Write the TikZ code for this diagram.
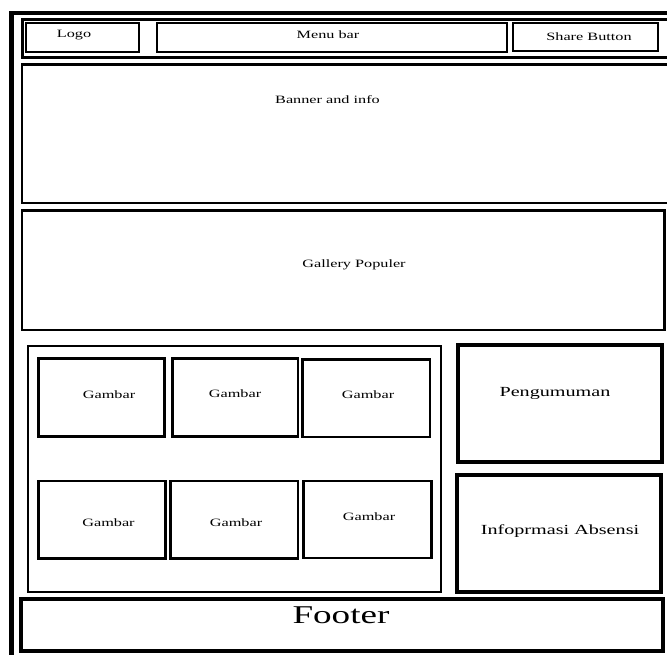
\documentclass[tikz,border=0pt]{standalone}
\usepackage{fontspec}
\setmainfont{Liberation Serif}
\usepackage{graphicx}
\newcommand{\wide}[1]{\scalebox{1.45}[1]{#1}}
\tikzset{
  box/.style={draw, line width=2.5pt, inner sep=0pt, line join=miter},
  thinbox/.style={draw, line width=2pt, inner sep=0pt},
  heavybox/.style={draw, line width=4pt, inner sep=0pt},
  frame/.style={line width=4.5pt, line join=miter},
  small/.style={anchor=base, inner sep=0pt, font=\fontsize{11.2}{13}\selectfont},
  side/.style={anchor=base, inner sep=0pt, font=\fontsize{13.9}{16}\selectfont},
  big/.style={anchor=base, inner sep=0pt, font=\fontsize{25.6}{28}\selectfont},
}
\begin{document}
\begin{tikzpicture}[x=1pt,y=-1pt]
\useasboundingbox (0,0) rectangle (667,654);
\clip (0,0) rectangle (667,654);
\fill[white] (0,0) rectangle (667,654);
% outer frame (cropped on right and bottom)
\coordinate (fbl) at (11.5,680);
\coordinate (ftl) at (11.5,13);
\coordinate (ftr) at (690,13);
\draw[frame] (fbl) -- (ftl) -- (ftr);
% header
\node[box, minimum width=645.5pt, minimum height=38pt] (header) at (345.25,38.5) {};
\node[box, minimum width=113pt, minimum height=29pt] (logo) at (82.5,37.5) {};
\node[box, minimum width=350pt, minimum height=29pt] (menu) at (332,37.5) {};
\node[box, minimum width=145pt, minimum height=28pt] (share) at (585.5,37) {};
\node[small] (tlogo) at (74,37.5) {\wide{Logo}};
\node[small] (tmenu) at (328,38) {\wide{Menu bar}};
\node[small] (tshare) at (589,40) {\wide{Share Button}};
% banner and gallery
\node[box, minimum width=646pt, minimum height=138.5pt] (banner) at (345,133.75) {};
\node[small] (tbanner) at (327.5,103) {\wide{Banner and info}};
\node[box, minimum width=642.5pt, minimum height=119.5pt] (gallery) at (343.25,270.25) {};
\node[small] (tgallery) at (354,267) {\wide{Gallery Populer}};
% grid of pictures
\node[thinbox, minimum width=413.5pt, minimum height=246pt] (grid) at (234.25,469) {};
\node[box, minimum width=126pt, minimum height=78pt] (g1) at (101.5,397.5) {};
\node[box, minimum width=125.5pt, minimum height=78pt] (g2) at (235.25,397.5) {};
\node[box, minimum width=127.5pt, minimum height=77.5pt] (g3) at (366.25,398.25) {};
\node[box, minimum width=127pt, minimum height=77.5pt] (g4) at (102,519.75) {};
\node[box, minimum width=127.5pt, minimum height=77.5pt] (g5) at (234.25,519.75) {};
\node[box, minimum width=128pt, minimum height=77pt] (g6) at (367.5,519.5) {};
\node[small] (tg1) at (109,398) {\wide{Gambar}};
\node[small] (tg2) at (235,397.5) {\wide{Gambar}};
\node[small] (tg3) at (368,398) {\wide{Gambar}};
\node[small] (tg4) at (108.5,526) {\wide{Gambar}};
\node[small] (tg5) at (236,526) {\wide{Gambar}};
\node[small] (tg6) at (369,520) {\wide{Gambar}};
% side boxes
\node[heavybox, minimum width=204.5pt, minimum height=117pt] (peng) at (559.75,403) {};
\node[side] (tpeng) at (555,396) {\wide{Pengumuman}};
\node[heavybox, minimum width=204pt, minimum height=116.5pt] (info) at (559,533.25) {};
\node[side] (tinfo) at (560,534) {\wide{Infoprmasi Absensi}};
% footer
\node[heavybox, minimum width=642pt, minimum height=52.5pt] (footer) at (342,624.75) {};
\node[big] (tfooter) at (341,623) {\wide{Footer}};
\end{tikzpicture}
\end{document}
